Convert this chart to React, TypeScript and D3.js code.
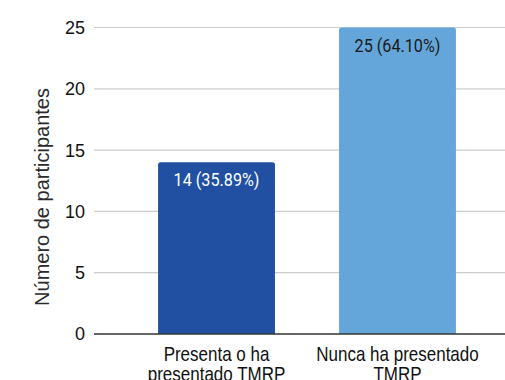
import React from "react";
import * as d3 from "d3";

const categories: string[][] = [
  ["Presenta o ha", "presentado TMRP"],
  ["Nunca ha presentado", "TMRP"],
];
const counts: number[] = [14, 25];
const shares: string[] = ["35.89%", "64.10%"];
const barColors: string[] = ["#2150a2", "#65a6da"];
const labelColors: string[] = ["#ffffff", "#1a1a1a"];
const yTicks: number[] = [0, 5, 10, 15, 20, 25];
const yTitle = "Número de participantes";

const W = 505;
const H = 380;
const SANS = "Liberation Sans, Arial, sans-serif";

function topRoundedBar(x: number, y: number, w: number, h: number, r: number): string {
  const p = d3.path();
  p.moveTo(x, y + h);
  p.lineTo(x, y + r);
  p.arcTo(x, y, x + r, y, r);
  p.lineTo(x + w - r, y);
  p.arcTo(x + w, y, x + w, y + r, r);
  p.lineTo(x + w, y + h);
  p.closePath();
  return p.toString();
}

export default function App() {
  const keys = categories.map((c) => c.join(" "));
  const x = d3
    .scaleBand<string>()
    .domain(keys)
    .range([94, 520])
    .paddingInner(0.354)
    .paddingOuter(0.354);
  const y = d3.scaleLinear().domain([0, 25]).range([334, 27.5]);
  const gridX0 = 94;
  const gridX1 = W;

  return (
    <svg
      width={W}
      height={H}
      style={{ position: "fixed", left: 0, top: 0, background: "#fff" }}
    >
      {yTicks.map((t) => (
        <g key={t}>
          {t !== 0 && (
            <line
              x1={gridX0}
              x2={gridX1}
              y1={y(t)}
              y2={y(t)}
              stroke="#cccccc"
              strokeWidth={1.2}
            />
          )}
          <text
            x={85}
            y={y(t)}
            dy="0.36em"
            textAnchor="end"
            fontFamily={SANS}
            fontSize={18}
            fill="#111"
          >
            {t}
          </text>
        </g>
      ))}
      <text
        transform={`translate(42,197) rotate(-90)`}
        textAnchor="middle"
        dy="0.36em"
        fontFamily={SANS}
        fontSize={20}
        fill="#2a2a2a"
      >
        {yTitle}
      </text>
      {counts.map((v, i) => {
        const bx = x(keys[i])!;
        const bw = x.bandwidth();
        const by = y(v);
        return (
          <g key={keys[i]}>
            <path
              d={topRoundedBar(bx, by, bw, y(0) - by, 2.5)}
              fill={barColors[i]}
            />
            <text
              transform={`translate(${bx + bw / 2},${by + 24}) scale(0.9,1)`}
              textAnchor="middle"
              fontFamily="Roboto, sans-serif"
              fontSize={18}
              fill={labelColors[i]}
            >
              {`${v} (${shares[i]})`}
            </text>
          </g>
        );
      })}
      <line
        x1={gridX0}
        x2={gridX1}
        y1={y(0)}
        y2={y(0)}
        stroke="#333"
        strokeWidth={1.4}
      />
      {categories.map((lines, i) => {
        const cx = x(keys[i])! + x.bandwidth() / 2;
        return (
          <text
            key={keys[i]}
            transform={`translate(${cx},0) scale(0.85,1)`}
            textAnchor="middle"
            fontFamily={SANS}
            fontSize={20}
            fill="#111"
          >
            {lines.map((ln, j) => (
              <tspan key={j} x={0} y={361.5 + j * 20}>
                {ln}
              </tspan>
            ))}
          </text>
        );
      })}
    </svg>
  );
}
